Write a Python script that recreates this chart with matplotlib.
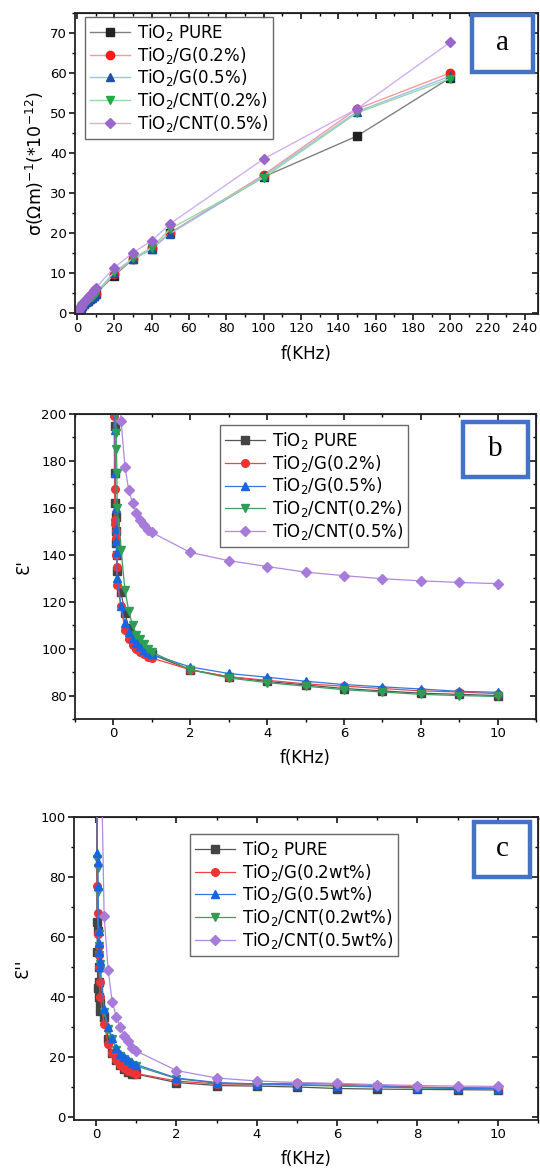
import matplotlib
matplotlib.use('Agg')
import matplotlib.pyplot as plt
from matplotlib.patches import Rectangle
from matplotlib.ticker import MultipleLocator

plt.rcParams['font.family'] = ['DejaVu Sans']
plt.rcParams['mathtext.fontset'] = 'dejavusans'

W, H = 540, 1171

# ---------- data ----------
labels_ab = ['TiO$_2$ PURE', 'TiO$_2$/G(0.2%)', 'TiO$_2$/G(0.5%)',
             'TiO$_2$/CNT(0.2%)', 'TiO$_2$/CNT(0.5%)']
labels_c = ['TiO$_2$ PURE', 'TiO$_2$/G(0.2wt%)', 'TiO$_2$/G(0.5wt%)',
            'TiO$_2$/CNT(0.2wt%)', 'TiO$_2$/CNT(0.5wt%)']

# (a) conductivity
f_a = [0.1, 0.5, 1, 2, 3, 4, 5, 6, 7, 8, 9, 10, 20, 30, 40, 50, 100, 150, 200]
sig_pure = [0.1, 0.3, 0.6, 1.1, 1.6, 2.1, 2.6, 3.0, 3.5, 3.9, 4.3, 4.7, 9.3, 13.4, 16.0, 20.0, 34.0, 44.2, 58.8]
sig_g02 = [0.1, 0.3, 0.6, 1.1, 1.6, 2.1, 2.6, 3.0, 3.5, 3.9, 4.3, 4.8, 9.6, 13.5, 16.1, 20.0, 34.5, 51.0, 60.0]
sig_g05 = [0.1, 0.3, 0.6, 1.1, 1.6, 2.1, 2.6, 3.0, 3.4, 3.8, 4.2, 4.6, 10.0, 13.4, 16.0, 19.8, 34.2, 50.3, 59.2]
sig_c02 = [0.1, 0.3, 0.7, 1.2, 1.7, 2.2, 2.7, 3.2, 3.6, 4.0, 4.5, 4.9, 10.2, 13.6, 16.3, 21.0, 33.8, 50.0, 58.6]
sig_c05 = [0.2, 0.5, 0.9, 1.5, 2.1, 2.7, 3.3, 3.9, 4.4, 5.0, 5.6, 6.2, 11.3, 15.0, 18.0, 22.3, 38.5, 51.0, 67.7]

# (b) real permittivity
f_b = [0.01, 0.02, 0.03, 0.04, 0.05, 0.06, 0.07, 0.08, 0.09, 0.1,
       0.2, 0.3, 0.4, 0.5, 0.6, 0.7, 0.8, 0.9, 1, 2, 3, 4, 5, 6, 7, 8, 9, 10]
eps_pure = [260, 230, 195, 175, 162, 156, 150, 145, 140, 133,
            124, 115, 109, 105, 103, 101, 99.5, 98.5, 97.5, 91, 88, 86, 84.5, 83, 82, 81, 80.5, 80]
eps_g02 = [240, 199, 168, 155, 153, 150, 147, 140, 135, 127,
           118, 108, 104, 101.5, 100, 98.5, 97.5, 96.5, 96, 91, 88, 86.5, 85, 84, 83, 82, 81.5, 80.8]
eps_g05 = [260, 225, 205, 193, 175, 160, 151, 146, 141, 130,
           118, 111, 107, 104.5, 102.5, 101, 99.5, 98.5, 97.5, 92.2, 89.4, 87.8, 86.1, 84.7, 83.7, 82.8, 81.8, 81.4]
eps_c02 = [280, 250, 230, 215, 205, 200, 192, 185, 175, 160,
           142, 125, 116, 110, 106, 104, 102, 100, 98.5, 91, 87.5, 85.5, 84, 82.5, 81.5, 80.5, 80, 79.6]
f_b5 = [0.1, 0.2, 0.3, 0.4, 0.5, 0.6, 0.7, 0.8, 0.9, 1, 2, 3, 4, 5, 6, 7, 8, 9, 10]
eps_c05 = [235, 197, 177.5, 167.5, 162, 158, 155, 152.5, 150.5, 149.5,
           141, 137.5, 135, 132.6, 131.1, 129.8, 128.9, 128.2, 127.7]

# (c) imaginary permittivity
f_c = [0.01, 0.02, 0.03, 0.04, 0.05, 0.06, 0.07, 0.08, 0.09, 0.1,
       0.2, 0.3, 0.4, 0.5, 0.6, 0.7, 0.8, 0.9, 1, 2, 3, 4, 5, 6, 7, 8, 9, 10]
epp_pure = [120, 65, 55, 43, 62, 50, 45, 40, 38, 35.5,
            33.5, 26, 21.5, 19, 17.5, 16, 15, 14.5, 14.3, 11.5, 10.5, 10.3, 10, 9.5, 9.3, 9.2, 9.1, 9.0]
epp_g02 = [130, 105, 77, 68, 61, 57, 54, 50, 45, 40,
           31, 24.5, 21.5, 19, 17.5, 16.5, 15.5, 15, 14.5, 12, 11, 11, 11.3, 11, 10.5, 10, 9.8, 9.7]
epp_g05 = [140, 110, 88, 85, 77, 62, 58, 55, 52, 50,
           36, 30, 26.5, 23, 21, 20, 19, 18, 17.5, 13, 11.5, 11, 10.8, 10.5, 10.2, 9.8, 9.6, 9.5]
epp_c02 = [135, 108, 86, 83, 75, 61, 57, 54, 51, 49,
           35, 29.5, 26, 22.5, 20.5, 19.5, 18.5, 17.5, 17, 12.8, 11.3, 10.8, 10.6, 10.3, 10, 9.7, 9.5, 9.4]
f_c5 = [0.1, 0.2, 0.3, 0.4, 0.5, 0.6, 0.7, 0.8, 0.9, 1, 2, 3, 4, 5, 6, 7, 8, 9, 10]
epp_c05 = [140, 67, 49, 38.5, 33.5, 30, 27, 25.5, 23, 22,
           15.5, 13, 12, 11.5, 11.2, 10.8, 10.5, 10.3, 10.2]

# ---------- styles ----------
markers = ['s', 'o', '^', 'v', 'D']
mk_a = ['#222222', '#ff1a1a', '#1f4fa8', '#22aa44', '#9966cc']
ln_a = ['#808080', '#f59a9a', '#9cc0ea', '#98d8a8', '#cfb0f2']
mk_bc = ['#444444', '#ee3333', '#1566e0', '#2e9e55', '#a77bd9']
ln_bc = ['#555555', '#ee4444', '#3377e0', '#3aa060', '#b08ae0']
box_color = '#4472c4'

fig = plt.figure(figsize=(W / 100, H / 100), dpi=100)


def add_axes(x0, y0, x1, y1):
    return fig.add_axes([x0 / W, 1 - y1 / H, (x1 - x0) / W, (y1 - y0) / H])


def style_axes(ax, xmaj, xmin, ymaj, ymin):
    ax.xaxis.set_major_locator(MultipleLocator(xmaj))
    ax.xaxis.set_minor_locator(MultipleLocator(xmin))
    ax.yaxis.set_major_locator(MultipleLocator(ymaj))
    ax.yaxis.set_minor_locator(MultipleLocator(ymin))
    for s in ax.spines.values():
        s.set_linewidth(1.3)
        s.set_color('#222222')
    ax.tick_params(which='major', direction='out', length=4, width=1.1, labelsize=9.5, pad=2)
    ax.tick_params(which='minor', direction='out', length=2.5, width=1)
    top = ax.secondary_xaxis('top')
    top.xaxis.set_major_locator(MultipleLocator(xmaj))
    top.xaxis.set_minor_locator(MultipleLocator(xmin))
    top.tick_params(which='major', direction='in', length=4, width=1.1, labeltop=False)
    top.tick_params(which='minor', direction='in', length=2.5, width=1)
    right = ax.secondary_yaxis('right')
    right.yaxis.set_major_locator(MultipleLocator(ymaj))
    right.yaxis.set_minor_locator(MultipleLocator(ymin))
    right.tick_params(which='major', direction='in', length=4, width=1.1, labelright=False)
    right.tick_params(which='minor', direction='in', length=2.5, width=1)


def letter_box(x0, y0, x1, y1, letter):
    fig.add_artist(Rectangle((x0 / W, 1 - y1 / H), (x1 - x0) / W, (y1 - y0) / H,
                             transform=fig.transFigure, fc='white', ec=box_color, lw=3.2, zorder=10))
    fig.text((x0 + x1) / 2 / W, 1 - (y0 + y1) / 2 / H, letter, ha='center', va='center',
             family='Liberation Serif', fontsize=21, zorder=11)


def legend(ax, x, y):
    ax.legend(loc='upper left', bbox_to_anchor=(x / W, 1 - y / H), bbox_transform=fig.transFigure,
              fontsize=12, frameon=True, fancybox=False, edgecolor='#444444', borderaxespad=0,
              labelspacing=0.1, handlelength=2.4, borderpad=0.3, handletextpad=0.4)


# ---------- panel a ----------
ax = add_axes(75, 13, 538, 314)
series_a = [sig_pure, sig_g02, sig_g05, sig_c02, sig_c05]
for i, ys in enumerate(series_a):
    ax.plot(f_a, ys, color=ln_a[i], lw=1, marker=markers[i], ms=6 if i != 4 else 5.5,
            mfc=mk_a[i], mec=mk_a[i], label=labels_ab[i])
ax.set_xlim(-1, 247)
ax.set_ylim(-0.3, 75)
style_axes(ax, 20, 10, 10, 5)
ax.set_xlabel('f(KHz)', fontsize=12, labelpad=7)
ax.set_ylabel(r'σ(Ωm)$^{-1}$(*10$^{-12}$)', fontsize=12.5, labelpad=3)
legend(ax, 85, 17)
letter_box(472, 15, 533, 72, 'a')

# ---------- panel b ----------
ax = add_axes(75, 414, 536, 719)
series_b = [(f_b, eps_pure), (f_b, eps_g02), (f_b, eps_g05), (f_b, eps_c02), (f_b5, eps_c05)]
for i, (xs, ys) in enumerate(series_b):
    ax.plot(xs, ys, color=ln_bc[i], lw=0.9, marker=markers[i], ms=5.5 if i != 4 else 5,
            mfc=mk_bc[i], mec=mk_bc[i], label=labels_ab[i])
ax.set_xlim(-1, 11)
ax.set_ylim(70, 200)
style_axes(ax, 2, 1, 20, 10)
ax.set_xlabel('f(KHz)', fontsize=12, labelpad=6)
ax.set_ylabel("Ɛ'", fontsize=12, labelpad=6)
legend(ax, 220, 425)
letter_box(463, 422, 528, 477, 'b')

# ---------- panel c ----------
ax = add_axes(74, 817, 538, 1120)
series_c = [(f_c, epp_pure), (f_c, epp_g02), (f_c, epp_g05), (f_c, epp_c02), (f_c5, epp_c05)]
zo = [2, 4, 5, 3, 6]
for i, (xs, ys) in enumerate(series_c):
    ax.plot(xs, ys, color=ln_bc[i], lw=0.9, marker=markers[i], ms=5.5 if i != 4 else 5,
            mfc=mk_bc[i], mec=mk_bc[i], label=labels_c[i], zorder=zo[i])
ax.set_xlim(-0.55, 11)
ax.set_ylim(-1, 100)
style_axes(ax, 2, 1, 20, 10)
ax.set_xlabel('f(KHz)', fontsize=12, labelpad=6)
ax.set_ylabel("Ɛ''", fontsize=12, labelpad=6)
legend(ax, 190, 834)
letter_box(474, 822, 530, 877, 'c')

fig.savefig('out.png', dpi=100)
